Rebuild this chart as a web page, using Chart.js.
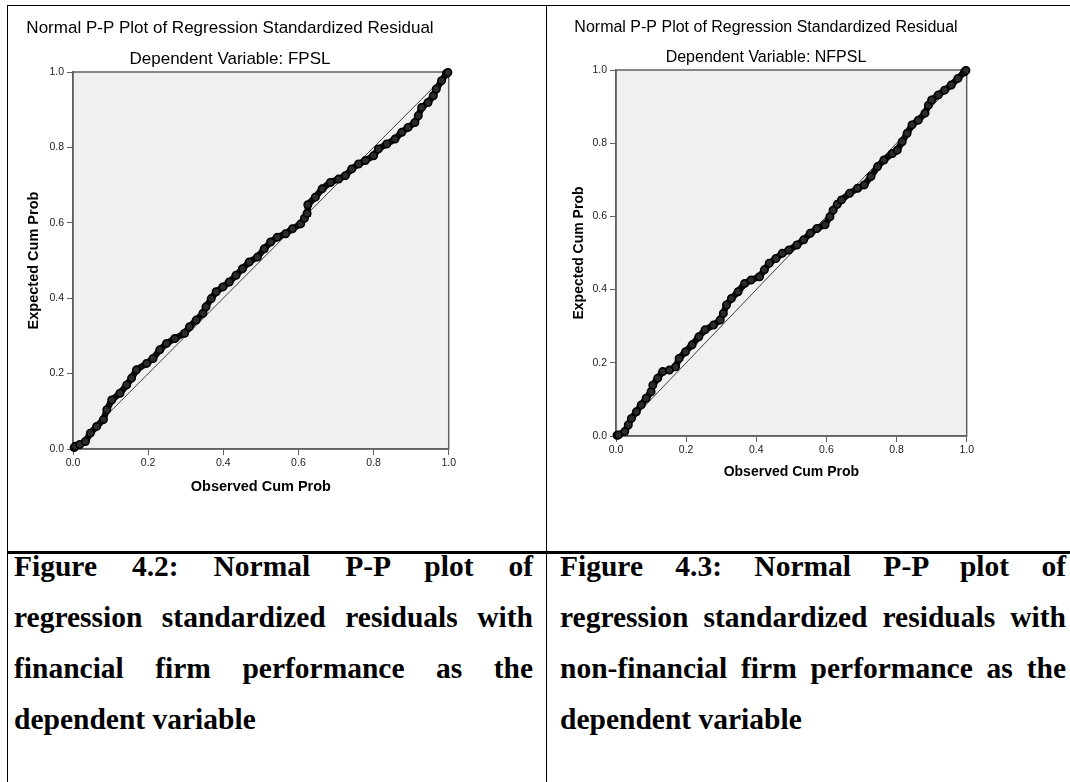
<!DOCTYPE html>
<html>
<head>
<meta charset="utf-8">
<title>Normal P-P plots</title>
<script src="https://cdn.jsdelivr.net/npm/chart.js@4.4.1/dist/chart.umd.min.js"></script>
<style>
    body { margin: 0; background: #fff; width: 1070px; height: 782px; overflow: hidden; position: relative; }
    .rule { position: absolute; background: #000; }
    canvas { position: absolute; }
    .caption { position: absolute; font-family: 'Liberation Serif', 'Times New Roman', serif; font-weight: bold; font-size: 29.5px; color: #000; }
    .caption div { height: 51px; line-height: 51px; white-space: normal; }
    .caption .fill { text-align: justify; text-align-last: justify; }
</style>
</head>
<body>
<!-- table lines -->
<div class="rule" style="left:7px; top:5px; width:1063px; height:1px;"></div>
<div class="rule" style="left:7px; top:5px; width:1px; height:777px;"></div>
<div class="rule" style="left:546px; top:5px; width:1px; height:777px;"></div>
<div class="rule" style="left:7px; top:551px; width:1063px; height:3px;"></div>

<canvas id="fpslChart" width="448" height="500" style="left:10px; top:6px; width:448px; height:500px;"></canvas>
<canvas id="nfpslChart" width="416" height="485" style="left:560px; top:6px; width:416px; height:485px;"></canvas>

<div class="caption" style="left:14px; top:541px; width:519px;">
    <div class="fill">Figure 4.2: Normal P-P plot of</div>
    <div class="fill">regression standardized residuals with</div>
    <div class="fill">financial firm performance as the</div>
    <div>dependent variable</div>
</div>
<div class="caption" style="left:560px; top:541px; width:506px;">
    <div class="fill">Figure 4.3: Normal P-P plot of</div>
    <div class="fill">regression standardized residuals with</div>
    <div class="fill">non-financial firm performance as the</div>
    <div>dependent variable</div>
</div>

<script>
// Axis tick labels (both axes, both charts)
const tickLabels = ['0.0', '0.2', '0.4', '0.6', '0.8', '1.0'];

// Figure 4.2 - dependent variable FPSL
const fpslObserved = [0.003, 0.006, 0.018, 0.033, 0.046, 0.063, 0.081, 0.090, 0.103, 0.125,
    0.143, 0.156, 0.169, 0.196, 0.213, 0.231, 0.249, 0.271, 0.297, 0.310,
    0.328, 0.346, 0.354, 0.368, 0.381, 0.399, 0.416, 0.434, 0.451, 0.469,
    0.491, 0.509, 0.526, 0.544, 0.566, 0.584, 0.606, 0.616, 0.623, 0.625,
    0.645, 0.663, 0.685, 0.707, 0.725, 0.742, 0.760, 0.778, 0.800, 0.813,
    0.835, 0.857, 0.875, 0.892, 0.910, 0.919, 0.928, 0.945, 0.959, 0.967,
    0.981, 0.994, 0.998];
const fpslExpected = [0.004, 0.007, 0.012, 0.020, 0.042, 0.060, 0.078, 0.104, 0.130, 0.148,
    0.170, 0.188, 0.210, 0.227, 0.240, 0.263, 0.280, 0.293, 0.307, 0.324,
    0.342, 0.360, 0.377, 0.399, 0.417, 0.430, 0.443, 0.461, 0.478, 0.496,
    0.509, 0.531, 0.549, 0.562, 0.571, 0.584, 0.597, 0.612, 0.625, 0.648,
    0.668, 0.690, 0.707, 0.716, 0.725, 0.743, 0.756, 0.765, 0.778, 0.796,
    0.809, 0.822, 0.840, 0.853, 0.866, 0.884, 0.906, 0.919, 0.937, 0.955,
    0.977, 0.996, 0.999];

// Figure 4.3 - dependent variable NFPSL
const nfpslObserved = [0.003, 0.007, 0.025, 0.035, 0.044, 0.058, 0.072, 0.086, 0.100, 0.105,
    0.119, 0.133, 0.152, 0.170, 0.180, 0.198, 0.217, 0.236, 0.254, 0.278,
    0.297, 0.306, 0.315, 0.329, 0.348, 0.367, 0.385, 0.409, 0.423, 0.437,
    0.456, 0.474, 0.493, 0.516, 0.535, 0.554, 0.573, 0.596, 0.610, 0.619,
    0.631, 0.643, 0.666, 0.689, 0.708, 0.727, 0.746, 0.764, 0.788, 0.802,
    0.816, 0.830, 0.844, 0.862, 0.881, 0.891, 0.900, 0.919, 0.937, 0.956,
    0.975, 0.994, 0.998];
const nfpslExpected = [0.002, 0.003, 0.012, 0.030, 0.048, 0.066, 0.085, 0.103, 0.121, 0.139,
    0.158, 0.176, 0.180, 0.189, 0.212, 0.230, 0.249, 0.271, 0.290, 0.303,
    0.317, 0.335, 0.358, 0.376, 0.394, 0.417, 0.426, 0.435, 0.454, 0.472,
    0.485, 0.499, 0.508, 0.522, 0.536, 0.554, 0.567, 0.577, 0.599, 0.617,
    0.633, 0.645, 0.663, 0.677, 0.686, 0.709, 0.736, 0.754, 0.772, 0.781,
    0.804, 0.827, 0.850, 0.863, 0.882, 0.904, 0.918, 0.932, 0.945, 0.959,
    0.977, 0.995, 0.999];

// reference diagonal
const diagonal = [0, 1];

const sans = "'Liberation Sans', Arial, sans-serif";

// grey plot background and box round the plot area, like SPSS
const ppBox = {
    id: 'ppBox',
    beforeDraw(chart) {
        const { ctx, chartArea } = chart;
        ctx.save();
        ctx.fillStyle = '#f0f0f0';
        ctx.fillRect(chartArea.left, chartArea.top, chartArea.width, chartArea.height);
        ctx.restore();
    },
    beforeDatasetsDraw(chart) {
        const { ctx, chartArea } = chart;
        ctx.save();
        ctx.strokeStyle = '#606060';
        ctx.lineWidth = 1.5;
        ctx.strokeRect(chartArea.left, chartArea.top, chartArea.width, chartArea.height);
        ctx.restore();
    }
};

function makePPChart(canvasId, observed, expected, sizes) {
    const points = observed.map((x, i) => ({ x: x, y: expected[i] }));
    const ctx = document.getElementById(canvasId).getContext('2d');
    return new Chart(ctx, {
        type: 'scatter',
        data: {
            datasets: [
                {
                    data: points,
                    showLine: true,
                    borderColor: '#0d0d0d',
                    borderWidth: 6.5,
                    pointRadius: 3.7,
                    pointBorderWidth: 1.6,
                    pointBorderColor: '#000',
                    pointBackgroundColor: '#2b2b2b',
                    clip: 4,
                    order: 0
                },
                {
                    data: diagonal.map(v => ({ x: v, y: v })),
                    showLine: true,
                    borderColor: '#404040',
                    borderWidth: 1,
                    pointRadius: 0,
                    order: 1
                }
            ]
        },
        options: {
            responsive: false,
            animation: false,
            devicePixelRatio: 1,
            events: [],
            layout: { padding: { left: 0, right: sizes.padRight, top: 0, bottom: 0 } },
            plugins: {
                legend: { display: false },
                tooltip: { enabled: false },
                title: {
                    display: true,
                    text: 'Normal P-P Plot of Regression Standardized Residual',
                    color: '#000',
                    font: { family: sans, size: sizes.titleSize, weight: 'normal' },
                    padding: sizes.titlePad
                },
                subtitle: {
                    display: true,
                    text: sizes.subtitle,
                    color: '#000',
                    font: { family: sans, size: sizes.titleSize, weight: 'normal' },
                    padding: sizes.subPad
                }
            },
            scales: {
                x: {
                    type: 'linear',
                    min: 0,
                    max: 1,
                    afterFit: s => { s.height = sizes.xHeight; },
                    ticks: {
                        stepSize: 0.2,
                        callback: (v, i) => tickLabels[i],
                        color: '#222',
                        font: { family: sans, size: 10.5 },
                        padding: 2,
                        maxRotation: 0,
                        autoSkip: false
                    },
                    grid: { drawOnChartArea: false, drawTicks: true, tickLength: 6, color: '#606060' },
                    border: { display: true, color: '#606060', width: 1.5 },
                    title: {
                        display: true,
                        text: 'Observed Cum Prob',
                        color: '#000',
                        font: { family: sans, size: sizes.axisSize, weight: 'bold' },
                        padding: { top: 0, bottom: sizes.xTitlePad }
                    }
                },
                y: {
                    type: 'linear',
                    min: 0,
                    max: 1,
                    afterFit: s => { s.width = sizes.yWidth; },
                    ticks: {
                        stepSize: 0.2,
                        callback: (v, i) => tickLabels[i],
                        color: '#222',
                        font: { family: sans, size: 10.5 },
                        padding: 3,
                        autoSkip: false
                    },
                    grid: { drawOnChartArea: false, drawTicks: true, tickLength: 6, color: '#606060' },
                    border: { display: true, color: '#606060', width: 1.5 },
                    title: {
                        display: true,
                        text: 'Expected Cum Prob',
                        color: '#000',
                        font: { family: sans, size: sizes.axisSize, weight: 'bold' },
                        padding: { top: sizes.yTitlePad, bottom: 0 }
                    }
                }
            }
        },
        plugins: [ppBox]
    });
}

// Figure 4.2 (left)
makePPChart('fpslChart', fpslObserved, fpslExpected, {
    subtitle: 'Dependent Variable: FPSL',
    titleSize: 17,
    titlePad: { top: 12, bottom: 2 },
    subPad: { top: 8.4, bottom: 2.8 },
    axisSize: 14.5,
    padRight: 8,
    yWidth: 63,
    xHeight: 57,
    xTitlePad: 10,
    yTitlePad: 15
});

// Figure 4.3 (right)
makePPChart('nfpslChart', nfpslObserved, nfpslExpected, {
    subtitle: 'Dependent Variable: NFPSL',
    titleSize: 16,
    titlePad: { top: 12.4, bottom: 2 },
    subPad: { top: 8.8, bottom: 2.4 },
    axisSize: 14,
    padRight: 4,
    yWidth: 56,
    xHeight: 55,
    xTitlePad: 10.6,
    yTitlePad: 10.6
});
</script>
</body>
</html>
